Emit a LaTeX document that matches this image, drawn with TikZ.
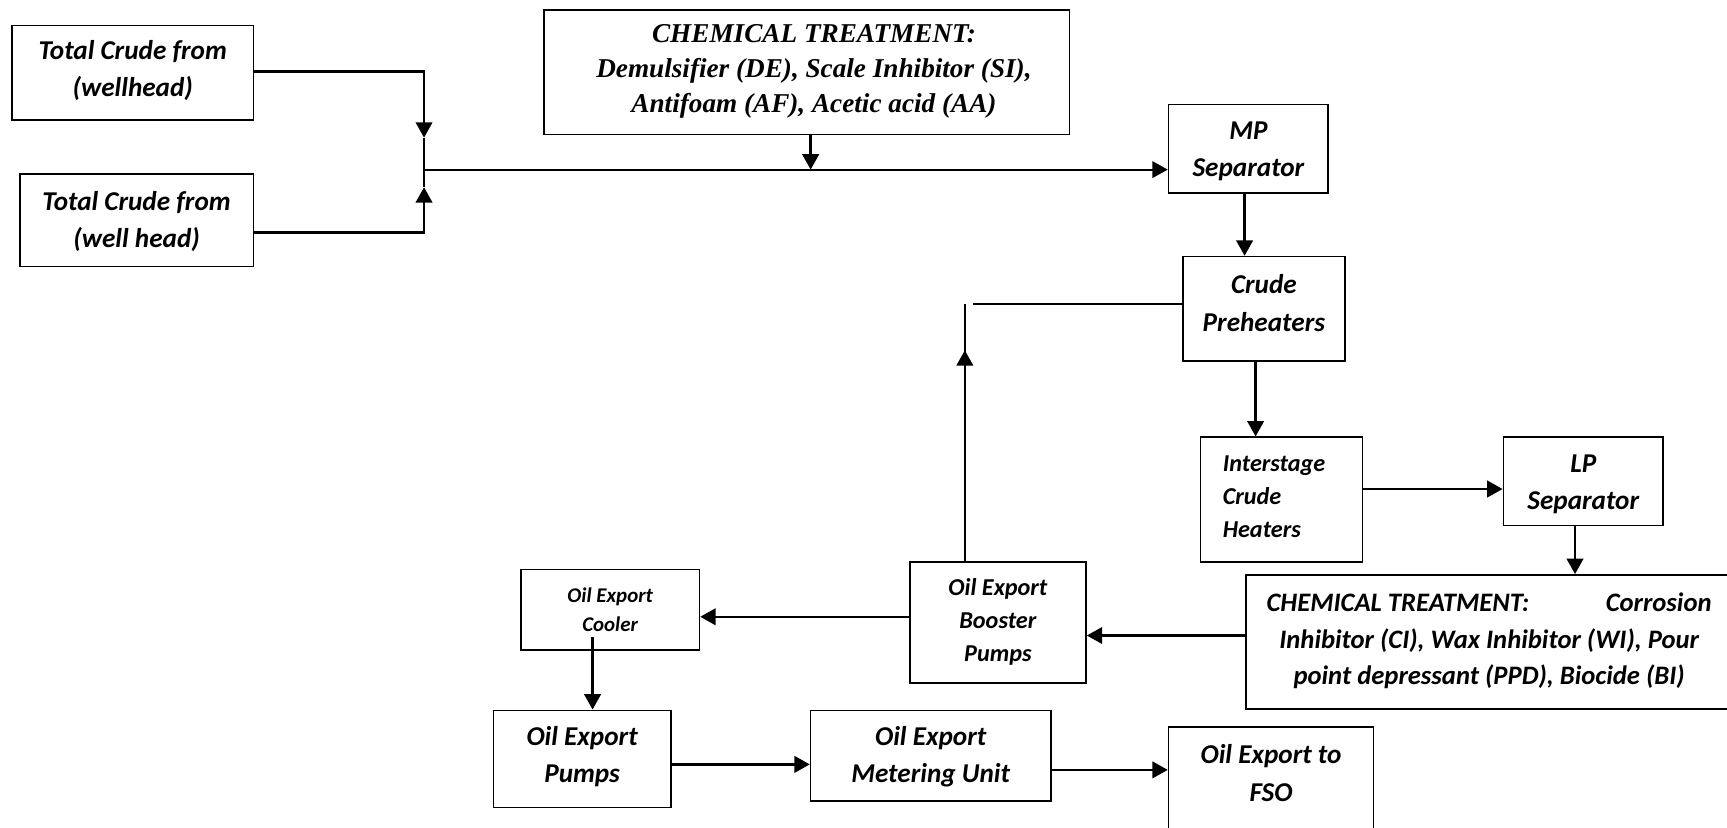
\documentclass[tikz,border=0pt]{standalone}
\usepackage{fontspec}
\setmainfont{Carlito}
\newfontfamily\serifbi{Liberation Serif}
\usetikzlibrary{arrows.meta,calc}
\begin{document}
\begin{tikzpicture}[x=1pt,y=-1pt,
  box/.style={draw,line width=1.5pt,inner sep=0pt},
  conn/.style={line width=2.2pt},
  arr/.style={conn,-{Triangle[length=14pt,width=15pt]}},
  thinconn/.style={line width=1.2pt},
  tbig/.style={inner sep=0pt,align=center,font=\fontsize{24.7pt}{34pt}\selectfont\bfseries\itshape},
  tmid/.style={inner sep=0pt,align=center,font=\fontsize{22pt}{30pt}\selectfont\bfseries\itshape},
  tsmall/.style={inner sep=0pt,align=center,font=\fontsize{19pt}{27pt}\selectfont\bfseries\itshape},
  tserif/.style={inner sep=0pt,align=center,font=\serifbi\fontsize{24.7pt}{32pt}\selectfont\bfseries\itshape},
  tchem/.style={inner sep=0pt,align=center,font=\fontsize{24.2pt}{33pt}\selectfont\bfseries\itshape}
]
\useasboundingbox (0,0) rectangle (1568,751);
\fill[white] (0,0) rectangle (1568,751);
\clip (0,0) rectangle (1568,751);

% boxes
\node[box,minimum width=219pt,minimum height=86pt] (A) at (120.5,66) {};
\node[tbig] (At) at (120.5,64) {Total Crude from\\(wellhead)};
\node[box,minimum width=212pt,minimum height=84pt] (B) at (124,200) {};
\node[tbig] (Bt) at (124,201) {Total Crude from\\(well head)};
\node[box,minimum width=477pt,minimum height=113pt] (chemA) at (732.5,65.5) {};
\node[tserif] (chemAt) at (739,65) {CHEMICAL TREATMENT:\\Demulsifier (DE), Scale Inhibitor (SI),\\Antifoam (AF), Acetic acid (AA)};
\node[box,minimum width=145pt,minimum height=80pt] (mp) at (1133.5,135) {};
\node[tbig] (mpt) at (1133.5,137.5) {MP\\Separator};
\node[box,minimum width=147pt,minimum height=95pt] (crude) at (1147.5,280.5) {};
\node[tbig] (crudet) at (1147.5,275) {Crude\\Preheaters};
\node[box,minimum width=147pt,minimum height=113pt] (inter) at (1163.5,453.5) {};
\node[tmid,align=left,anchor=west] (intert) at (1110,451) {Interstage\\Crude\\Heaters};
\node[box,minimum width=145pt,minimum height=80pt] (lp) at (1437.5,437) {};
\node[tbig] (lpt) at (1437.5,439.5) {LP\\Separator};
\node[box,minimum width=449pt,minimum height=122pt] (chemB) at (1355.5,583) {};
\node[tchem] (chemBt) at (1352,582) {\makebox[404pt]{CHEMICAL TREATMENT:\hfill Corrosion}\\Inhibitor (CI), Wax Inhibitor (WI), Pour\\point depressant (PPD), Biocide (BI)};
\node[box,minimum width=160pt,minimum height=110pt] (boost) at (906,565) {};
\node[tmid] (boostt) at (906,564.5) {Oil Export\\Booster\\Pumps};
\node[box,minimum width=162pt,minimum height=73pt] (cool) at (554,553.5) {};
\node[tsmall] (coolt) at (554,553.5) {Oil Export\\Cooler};
\node[box,minimum width=161pt,minimum height=88pt] (pumps) at (528.5,689) {};
\node[tbig] (pumpst) at (528.5,687) {Oil Export\\Pumps};
\node[box,minimum width=218pt,minimum height=82pt] (meter) at (845,686) {};
\node[tbig] (metert) at (845,687) {Oil Export\\Metering Unit};
\node[box,minimum width=186pt,minimum height=120pt] (fso) at (1154,720) {};
\node[tbig] (fsot) at (1154,702) {Oil Export to\\FSO};

% junction of the two crude feeds
\coordinate (jn) at (385,154);
\draw[arr] (A.east |- 0,65) -| ($(jn)+(0,-29)$);
\draw[conn,line width=1.8pt] ($(jn)+(0,-29)$) -- ($(jn)+(0,16)$);
\draw[arr] (B.east |- 0,211) -| ($(jn)+(0,16)$);
\draw[arr,line width=1.8pt] (jn) -- (jn -| mp.west);
\draw[arr] ([xshift=3.5pt]chemA.south) -- ([xshift=3.5pt]chemA.south |- jn);

% main train
\draw[arr] ([xshift=-3.5pt]mp.south) -- ([xshift=-3.5pt]mp.south |- crude.north);
\draw[arr] ([xshift=-7.5pt]crude.south) -- ([xshift=-7.5pt]crude.south |- inter.north);
\draw[arr] (inter.east |- 0,444) -- (lp.west |- 0,444);
\draw[arr] (lp.south -| 1430,0) -- (chemB.north -| 1430,0);
\draw[arr] (chemB.west |- 0,577) -- (boost.east |- 0,577);
\draw[arr] (boost.west |- 0,560) -- (cool.east |- 0,560);
\draw[arr] ($(cool.south -| 538,0)+(0,-12)$) -- (pumps.north -| 538,0);
\draw[arr] (pumps.east |- 0,694) -- (meter.west |- 0,694);
\draw[arr] (meter.east |- 0,699) -- (fso.west |- 0,699);

% return line from booster pumps
\coordinate (ret) at (876,276);
\draw[conn] (boost.north -| ret) -- (ret);
\draw[arr] (boost.north -| ret) -- ($(ret)+(0,42)$);
\draw[thinconn] (crude.west |- ret) -- ($(ret)+(7,0)$);
\end{tikzpicture}
\end{document}
